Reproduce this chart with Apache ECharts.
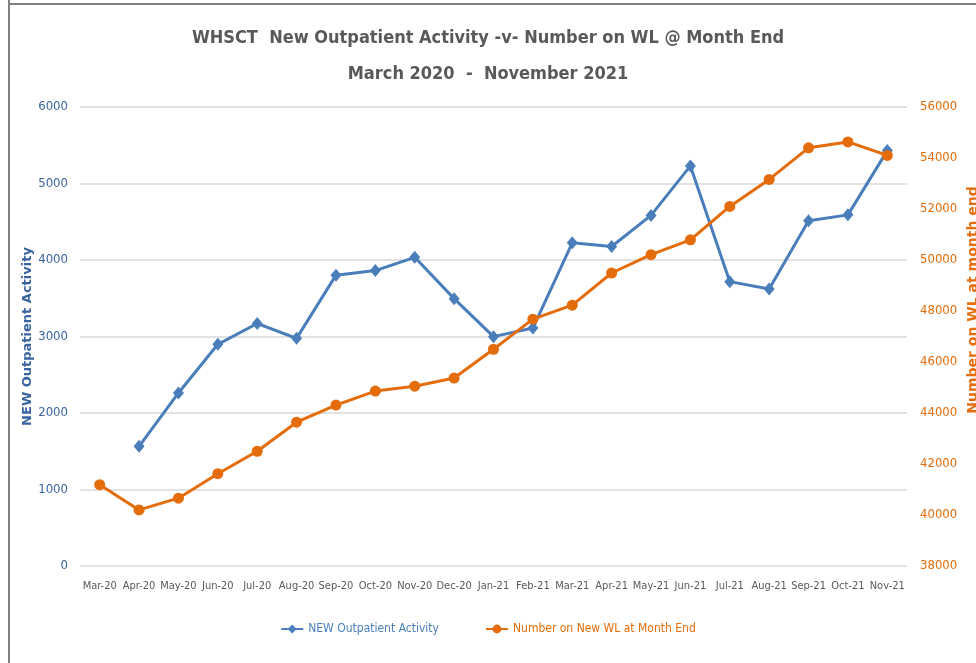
<!DOCTYPE html>
<html>
<head>
<meta charset="utf-8">
<script src="https://cdn.jsdelivr.net/npm/echarts@6/dist/echarts.min.js"></script>
<style>
  html, body { margin: 0; padding: 0; background: #fff; }
  #chart { width: 976px; height: 663px; }
</style>
</head>
<body>
<div id="chart"></div>
<script>
// categories and values
const months = ['Mar-20', 'Apr-20', 'May-20', 'Jun-20', 'Jul-20', 'Aug-20', 'Sep-20', 'Oct-20',
  'Nov-20', 'Dec-20', 'Jan-21', 'Feb-21', 'Mar-21', 'Apr-21', 'May-21', 'Jun-21', 'Jul-21',
  'Aug-21', 'Sep-21', 'Oct-21', 'Nov-21'];
const newActivity = [null, 1565, 2262, 2898, 3170, 2976, 3802, 3862, 4035, 3495, 2998, 3110,
  4225, 4176, 4583, 5230, 3717, 3622, 4512, 4590, 5430];
const waitingList = [41190, 40200, 40660, 41620, 42500, 43640, 44310, 44860, 45050, 45370,
  46500, 47680, 48230, 49490, 50210, 50790, 52100, 53160, 54400, 54630, 54100];
const leftTicks = { min: 0, max: 6000, interval: 1000 };
const rightTicks = { min: 38000, max: 56000, interval: 2000 };

const FONT = "'Liberation Sans Narrow', 'DejaVu Sans Condensed', sans-serif";
const BLUE = '#4a7ebb';
const ORANGE = '#e46c0a';

const chart = echarts.init(document.getElementById('chart'), null, { renderer: 'canvas' });

const option = {
  backgroundColor: '#fff',
  textStyle: { fontFamily: FONT },
  title: {
    text: 'WHSCT  New Outpatient Activity -v- Number on WL @ Month End\nMarch 2020  -  November 2021',
    left: 'center',
    top: 15,
    textStyle: {
      fontFamily: FONT,
      fontSize: 18,
      fontWeight: 'bold',
      color: '#595959',
      lineHeight: 36,
    },
  },
  graphic: [
    { type: 'line', shape: { x1: 9, y1: 0, x2: 9, y2: 663 }, style: { stroke: '#7f7f7f', lineWidth: 2 } },
    { type: 'line', shape: { x1: 9, y1: 4, x2: 976, y2: 4 }, style: { stroke: '#7f7f7f', lineWidth: 2 } },
    {
      // right axis title sits a little above the plot's middle in the original
      type: 'text',
      x: 973,
      y: 300,
      rotation: Math.PI / 2,
      style: {
        text: 'Number on WL at month end',
        fill: ORANGE,
        font: "bold 14px 'DejaVu Sans', sans-serif",
        align: 'center',
        verticalAlign: 'middle',
      },
    },
  ],
  legend: {
    bottom: 23,
    left: 'center',
    itemGap: 46,
    itemWidth: 22,
    itemHeight: 11,
    textStyle: { fontFamily: FONT, fontSize: 12 },
    data: [
      { name: 'NEW Outpatient Activity', textStyle: { color: BLUE } },
      { name: 'Number on New WL at Month End', textStyle: { color: ORANGE } },
    ],
  },
  grid: {
    left: 80,
    right: 69,
    top: 107,
    bottom: 97,
    outerBoundsMode: 'none',
  },
  xAxis: {
    type: 'category',
    data: months,
    boundaryGap: true,
    axisLine: { show: false },
    axisTick: { show: false },
    axisLabel: { color: '#595959', fontSize: 11, margin: 15, interval: 0 },
  },
  yAxis: [
    {
      type: 'value',
      ...leftTicks,
      name: 'NEW Outpatient Activity',
      nameLocation: 'middle',
      nameGap: 46,
      nameMoveOverlap: false,
      nameTextStyle: { color: '#3a64a0', fontSize: 13, fontWeight: 'bold', fontFamily: 'DejaVu Sans, sans-serif' },
      axisLine: { show: false },
      axisTick: { show: false },
      axisLabel: { color: '#3a64a0', fontSize: 13, margin: 12, formatter: (v) => String(v) },
      splitLine: { lineStyle: { color: '#d9d9d9', width: 1.5 } },
    },
    {
      type: 'value',
      ...rightTicks,
      position: 'right',
      axisLine: { show: false },
      axisTick: { show: false },
      axisLabel: { color: ORANGE, fontSize: 13, margin: 13, formatter: (v) => String(v) },
      splitLine: { show: false },
    },
  ],
  series: [
    {
      name: 'NEW Outpatient Activity',
      type: 'line',
      yAxisIndex: 0,
      data: newActivity,
      symbol: 'diamond',
      symbolSize: [11, 13],
      lineStyle: { color: BLUE, width: 3 },
      itemStyle: { color: BLUE },
      z: 3,
    },
    {
      name: 'Number on New WL at Month End',
      type: 'line',
      yAxisIndex: 1,
      data: waitingList,
      symbol: 'circle',
      symbolSize: 11,
      lineStyle: { color: ORANGE, width: 3 },
      itemStyle: { color: ORANGE },
      z: 4,
    },
  ],
};

chart.setOption(option);
</script>
</body>
</html>
